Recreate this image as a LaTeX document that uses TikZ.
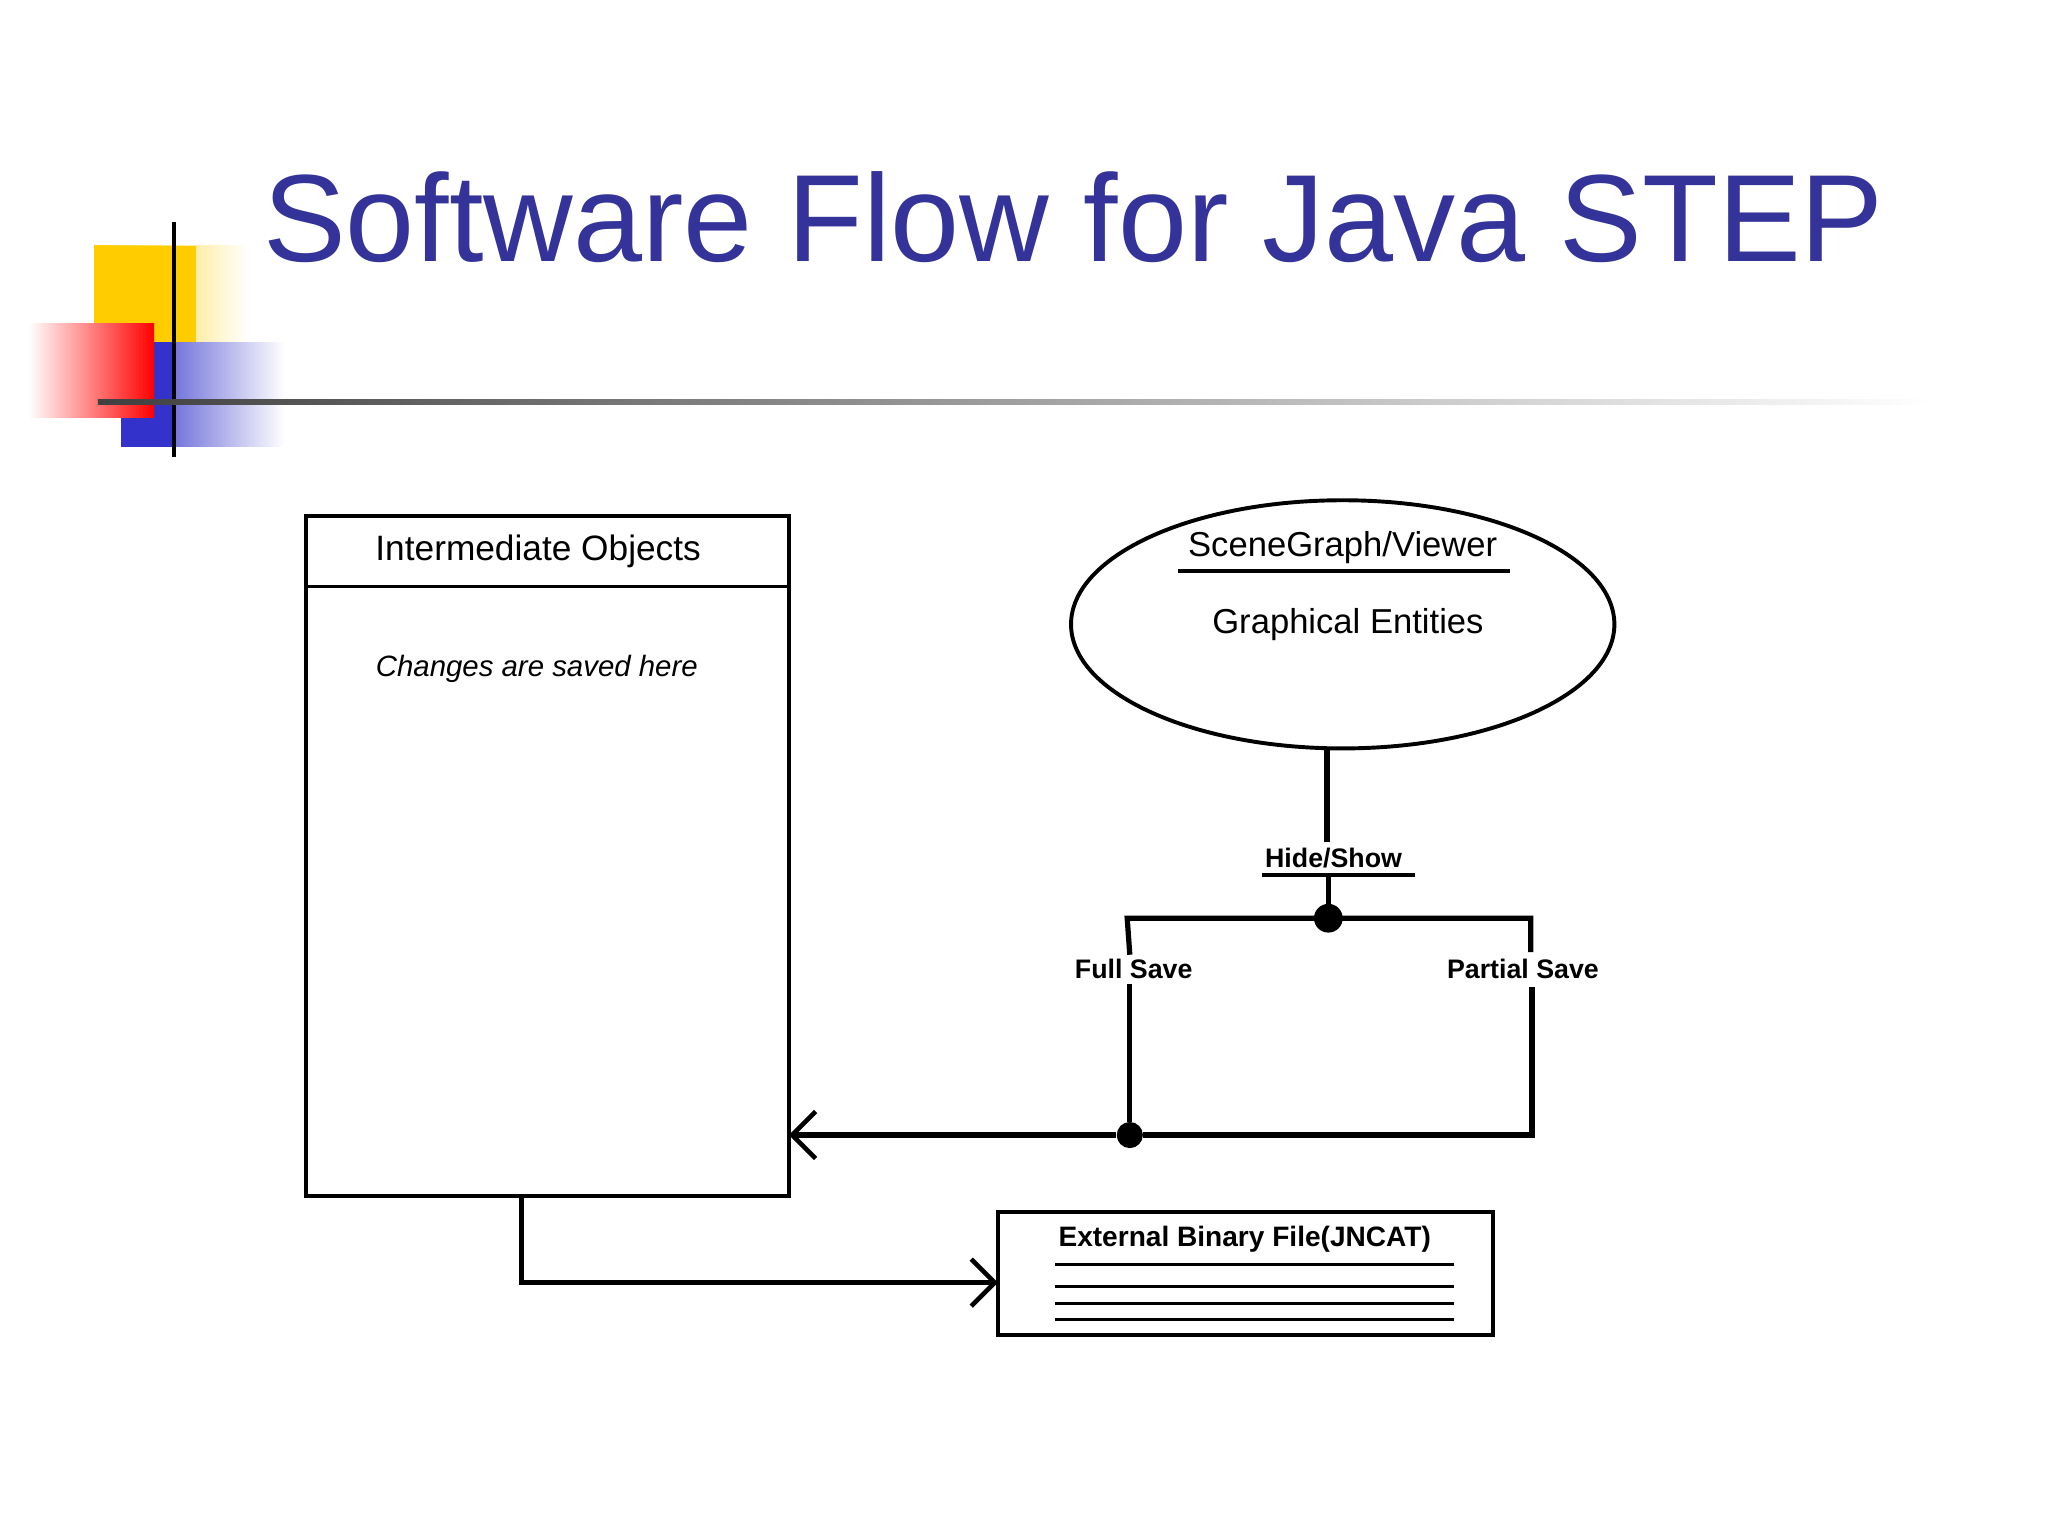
\documentclass[tikz,border=0pt]{standalone}
\usepackage{fontspec}
\setmainfont{Liberation Sans}
\usetikzlibrary{arrows.meta,shapes.geometric}
\definecolor{titleblue}{RGB}{51,51,153}
\definecolor{sqyellow}{RGB}{255,204,0}
\definecolor{sqblue}{RGB}{51,51,204}
\begin{document}
\begin{tikzpicture}[x=1pt,y=-1pt,
  ln/.style={line width=4pt},
  bx/.style={draw,line width=3pt},
  lbl/.style={font=\fontsize{20.5}{22}\selectfont\bfseries},
  tip/.style={-{Straight Barb[length=18pt,width=36pt,line width=3.5pt]}}]
\useasboundingbox (0,0) rectangle (1568,1176);
\fill[white] (0,0) rectangle (1568,1176);
% logo
\shade[left color=sqyellow,right color=white] (72,188) rectangle (190,262);
\fill[sqyellow] (72,188) rectangle (150,262);
\shade[left color=sqblue,right color=white] (93,262) rectangle (218,342);
\fill[sqblue] (93,262) rectangle (135,342);
\shade[left color=white,right color=red] (22,248) rectangle (118,320);
\draw[line width=3pt] (133,170) -- (133,350);
\shade[left color=black!75,right color=white] (75,306) rectangle (1480,310);
\node[text=titleblue,font=\fontsize{95}{100}\selectfont,anchor=base west] (title) at (198,200) {Software Flow for Java STEP};
% intermediate box
\draw[bx] (234,395) rectangle (604,916);
\draw[bx] (234,449) -- (604,449);
\node[font=\fontsize{27}{29}\selectfont] (io) at (412,422) {Intermediate Objects};
\node[font=\fontsize{22.5}{24}\selectfont\itshape] (ch) at (411,512) {Changes are saved here};
\coordinate (iobot) at (399,916);
\coordinate (ioright) at (604,869);
% ellipse
\node[draw,ellipse,line width=3pt,minimum width=416pt,minimum height=190pt] (sg) at (1028,478) {};
\node[font=\fontsize{26.5}{28}\selectfont] (sgt) at (1028,419) {SceneGraph/Viewer};
\draw[line width=3.5pt] (902,437) -- (1156,437);
\node[font=\fontsize{26.5}{28}\selectfont] (ge) at (1032,478) {Graphical Entities};
% hide/show
\node[lbl] (hs) at (1021,657) {Hide/Show};
\draw[line width=3.5pt] (966,670) -- (1083,670);
\coordinate (hsb) at (1017,670);
\node[circle,fill,inner sep=0,minimum size=22pt] (d1) at (1017,703) {};
\draw[ln] (1016,572) -- (1016,645);
\draw[ln] (hsb) -- (d1);
\node[lbl] (fs) at (868,742) {Full Save};
\node[lbl] (ps) at (1166,742) {Partial Save};
\node[circle,fill,inner sep=0,minimum size=20pt] (d2) at (865,869) {};
\draw[ln] (fs.north -| d2) -- (863,703) -- (1172,703) -- (1172,729);
\draw[ln] (fs.south -| d2) -- (d2);
\draw[ln] (1173,756) -- (1173,869) -- (d2);
\draw[ln,tip] (d2) -- (ioright);
% external
\node[draw,line width=3pt,minimum width=379pt,minimum height=94pt] (ext) at (953.5,975) {};
\node[font=\fontsize{21.5}{23}\selectfont\bfseries] (et) at (953,949) {External Binary File(JNCAT)};
\foreach \yy in {968,985,998,1010} \draw[line width=2pt] (808,\yy) -- (1113,\yy);
\coordinate (extin) at (764,982);
\draw[ln,tip] (iobot) -- (399,982) -- (extin);
\end{tikzpicture}
\end{document}
